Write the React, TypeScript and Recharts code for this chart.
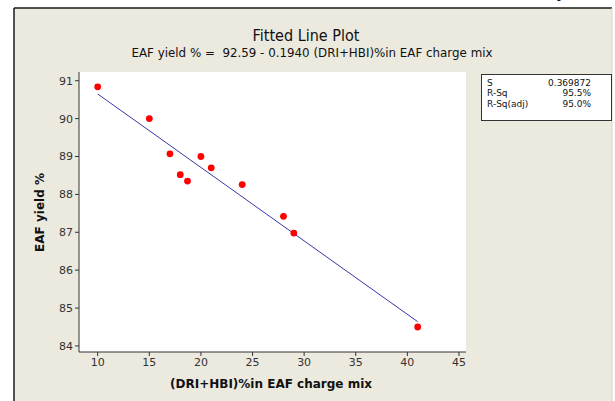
import React from "react";
import { ComposedChart, Scatter, XAxis, YAxis, CartesianGrid } from "recharts";

const driHbiPct = [10, 15, 17, 18, 18.7, 20, 21, 24, 28, 29, 41];
const eafYield = [90.84, 90.0, 89.07, 88.52, 88.35, 89.0, 88.7, 88.26, 87.42, 86.98, 84.5];
const fitX = [10, 41];
const fitY = [90.65, 84.64];
const xTicks = [10, 15, 20, 25, 30, 35, 40, 45];
const yTicks = [84, 85, 86, 87, 88, 89, 90, 91];
const statLabels = ["S", "R-Sq", "R-Sq(adj)"];
const statValues = ["0.369872", "95.5%", "95.0%"];

const points = driHbiPct.map((x, i) => ({ x, y: eafYield[i] }));
const fitData = fitX.map((x, i) => ({ x, y: fitY[i] }));

const FONT = "'DejaVu Sans', Tahoma, sans-serif";

const Dot = (props: any) => {
  const { cx, cy } = props;
  return <circle cx={cx} cy={cy} r={3.4} fill="#ff0000" />;
};
const NoDot = () => <g />;

export default function App() {
  return (
    <div style={{ position: "absolute", left: 0, top: 0, width: 615, height: 401, background: "#fff", overflow: "hidden" }}>
      <svg width={615} height={401} style={{ position: "absolute", left: 0, top: 0 }}>
        <rect x={14} y={8} width={598} height={400} fill="#ECE9DF" />
        <line x1={14} y1={8} x2={612} y2={8} stroke="#1a1a1a" strokeWidth={1.5} />
        <line x1={14} y1={8} x2={14} y2={401} stroke="#1a1a1a" strokeWidth={1.5} />
        <line x1={612} y1={8} x2={612} y2={401} stroke="#d8d5cc" strokeWidth={1} />
        <text x={556} y={-3} fontFamily={FONT} fontSize={18} fill="#111">y</text>
        <text x={306} y={41} textAnchor="middle" fontFamily={FONT} fontSize={15} fill="#111" textLength={107} lengthAdjust="spacingAndGlyphs">Fitted Line Plot</text>
        <text x={312} y={57} textAnchor="middle" fontFamily={FONT} fontSize={11.5} fill="#111" textLength={361} lengthAdjust="spacingAndGlyphs" style={{ whiteSpace: "pre" }}>EAF yield % =  92.59 - 0.1940 (DRI+HBI)%in EAF charge mix</text>
        <rect x={481.5} y={74.5} width={130} height={46} fill="#fff" stroke="#333" strokeWidth={1} />
        {statLabels.map((s, i) => (
          <text key={s} x={487} y={86 + i * 10.4} fontFamily={FONT} fontSize={9} fill="#111">{s}</text>
        ))}
        {statValues.map((s, i) => (
          <text key={s} x={591} y={86 + i * 10.4} textAnchor="end" fontFamily={FONT} fontSize={9} fill="#111">{s}</text>
        ))}
        <text x={271} y={388} textAnchor="middle" fontFamily={FONT} fontSize={12} fontWeight="bold" fill="#111" textLength={202} lengthAdjust="spacingAndGlyphs">(DRI+HBI)%in EAF charge mix</text>
        <text x={0} y={0} transform="translate(44,212.5) rotate(-90)" textAnchor="middle" fontFamily={FONT} fontSize={12} fontWeight="bold" fill="#111" textLength={79} lengthAdjust="spacingAndGlyphs">EAF yield %</text>
      </svg>
      <div style={{ position: "absolute", left: 0, top: 0 }}>
        <ComposedChart width={615} height={401} margin={{ top: 72, right: 149, bottom: 19, left: 0 }}>
          <CartesianGrid horizontal={false} vertical={false} fill="#ffffff" />
          <XAxis
            xAxisId="b"
            type="number"
            dataKey="x"
            domain={[8.19, 45.68]}
            ticks={xTicks}
            allowDataOverflow
            height={30}
            axisLine={{ stroke: "#333" }}
            tickLine={{ stroke: "#333" }}
            tickSize={4}
            tick={{ fill: "#333", fontSize: 11, fontFamily: FONT }}
          />
          <XAxis
            xAxisId="t"
            orientation="top"
            type="number"
            dataKey="x"
            domain={[8.19, 45.68]}
            allowDataOverflow
            height={0}
            tick={false}
            tickLine={false}
            axisLine={{ stroke: "#333" }}
          />
          <YAxis
            yAxisId="l"
            type="number"
            domain={[83.84, 91.23]}
            ticks={yTicks}
            allowDataOverflow
            width={79}
            axisLine={{ stroke: "#333" }}
            tickLine={{ stroke: "#333" }}
            tickSize={4}
            tick={{ fill: "#333", fontSize: 11, fontFamily: FONT }}
          />
          <YAxis
            yAxisId="r"
            orientation="right"
            type="number"
            domain={[83.84, 91.23]}
            allowDataOverflow
            width={0}
            tick={false}
            tickLine={false}
            axisLine={{ stroke: "#333" }}
          />
          <Scatter
            xAxisId="b"
            yAxisId="l"
            data={fitData}
            dataKey="y"
            line={{ stroke: "#3838a8", strokeWidth: 1 }}
            shape={NoDot}
            isAnimationActive={false}
          />
          <Scatter
            xAxisId="b"
            yAxisId="l"
            data={points}
            dataKey="y"
            shape={Dot}
            isAnimationActive={false}
          />
        </ComposedChart>
      </div>
    </div>
  );
}
